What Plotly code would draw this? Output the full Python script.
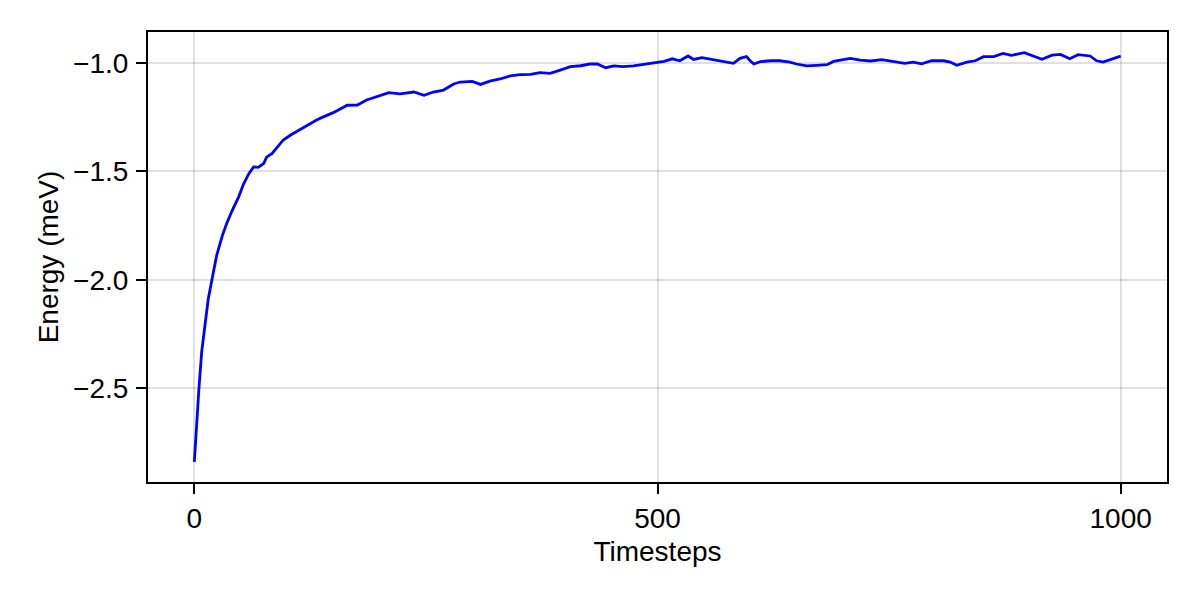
import plotly.graph_objects as go

# Timesteps and energies
timesteps = [0, 2.5, 5, 8, 12, 15, 19, 24, 30, 35, 41, 48, 53, 59, 64, 69, 75, 78, 84, 89, 96,
             104, 118, 132, 138, 150, 165, 176, 186, 197, 210, 222, 237, 248, 258, 269, 280, 287,
             300, 309, 319, 330, 341, 352, 363, 373, 384, 395, 406, 417, 427, 435, 444, 453, 463,
             474, 485, 496, 507, 516, 524, 533, 539, 548, 557, 566, 573, 582, 589, 596, 600, 604,
             611, 622, 632, 643, 650, 661, 672, 683, 690, 697, 708, 719, 730, 742, 755, 767, 776,
             785, 796, 809, 816, 823, 834, 843, 852, 863, 873, 882, 896, 907, 915, 926, 935, 945,
             954, 967, 974, 981, 990, 1000]
energy = [-2.839, -2.66, -2.50, -2.33, -2.20, -2.09, -2.00, -1.89, -1.80, -1.74, -1.68, -1.617,
          -1.56, -1.51, -1.48, -1.482, -1.464, -1.435, -1.418, -1.39, -1.356,
          -1.333, -1.298, -1.264, -1.252, -1.230, -1.196, -1.195, -1.172, -1.157, -1.138, -1.144,
          -1.135, -1.150, -1.135, -1.126, -1.098, -1.089, -1.086, -1.100, -1.085,
          -1.075, -1.061, -1.055, -1.054, -1.046, -1.049, -1.034, -1.018, -1.014, -1.006, -1.006,
          -1.023, -1.015, -1.018, -1.015, -1.009, -1.003, -0.994, -0.982, -0.991,
          -0.969, -0.985, -0.977, -0.983, -0.992, -0.994, -1.003, -0.980, -0.972, -0.991, -1.006,
          -0.995, -0.991, -0.991, -0.997, -1.006, -1.015, -1.012, -1.009, -0.994, -0.988, -0.980,
          -0.988, -0.992,
          -0.986, -0.995, -1.003, -0.997, -1.005, -0.991, -0.991, -0.997, -1.012, -0.997, -0.991,
          -0.972, -0.972, -0.957, -0.966, -0.954, -0.972, -0.984, -0.965, -0.962, -0.982, -0.963,
          -0.969, -0.991, -0.997, -0.984, -0.970]

x_ticks = [0, 500, 1000]
y_ticks = [-2.5, -2.0, -1.5, -1.0]

FONT = "Liberation Sans"
FS = 28

fig = go.Figure()
fig.add_trace(go.Scatter(x=timesteps, y=energy, mode="lines",
                         line=dict(color="#0000ff", width=2.8), showlegend=False))

axis_common = dict(
    showline=True, mirror=True, linecolor="black", linewidth=2,
    ticks="outside", ticklen=10, tickwidth=2, tickcolor="black",
    showgrid=True, gridcolor="rgba(0,0,0,0.12)", gridwidth=1.5,
    zeroline=False, tickfont=dict(family=FONT, size=FS, color="black"),
)

fig.update_xaxes(range=[-50, 1050], tickvals=x_ticks,
                 title=dict(text="Timesteps", font=dict(family=FONT, size=FS, color="black"), standoff=9),
                 **axis_common)
fig.update_yaxes(range=[-2.932, -0.8585], tickvals=y_ticks, tickformat=".1f",
                 ticklabelstandoff=2,
                 title=dict(text="Energy (meV)", font=dict(family=FONT, size=FS, color="black"), standoff=6),
                 **axis_common)

fig.update_layout(
    width=1200, height=600,
    margin=dict(l=140, r=41, t=24, b=126, autoexpand=False),
    plot_bgcolor="white", paper_bgcolor="white",
    font=dict(family=FONT, size=FS, color="black"),
)

fig.write_html("out.html")
